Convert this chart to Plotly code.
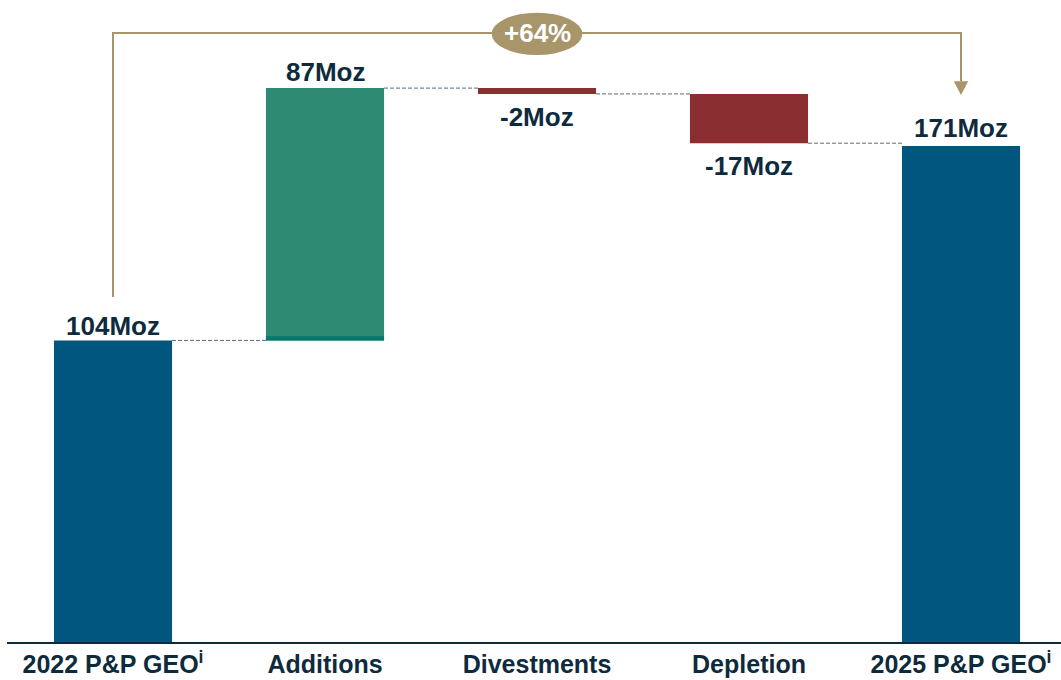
import plotly.graph_objects as go

# Reserves bridge, Moz gold-equivalent ounces
categories = ["2022 P&P GEO<sup>i</sup>", "Additions", "Divestments", "Depletion", "2025 P&P GEO<sup>i</sup>"]
start_total = 104
changes = [87, -2, -17]
end_total = 171
value_labels = ["104Moz", "87Moz", "-2Moz", "-17Moz", "171Moz"]
additions_base_strip = 1.4  # darker band at the foot of the additions bar

BLUE = "#00567e"
TEAL = "#2e8a72"
TEAL_DARK = "#00786e"
RED = "#8b2e31"
GOLD = "#a8966a"
NAVY = "#0e2b3e"
DASH = "#566b7b"
FONT = "Liberation Sans, Arial, sans-serif"

BAR_W = 0.557
x_pos = list(range(len(categories)))

# running levels between steps
levels = [start_total]
for c in changes:
    levels.append(levels[-1] + c)

fig = go.Figure()

# totals
fig.add_trace(go.Bar(x=[x_pos[0], x_pos[-1]], y=[start_total, end_total], width=BAR_W,
                     marker=dict(color=BLUE, line=dict(width=0)), hoverinfo="skip"))

# step bars
step_colors = [TEAL if c > 0 else RED for c in changes]
fig.add_trace(go.Bar(x=x_pos[1:4], y=changes, base=levels[:3], width=BAR_W,
                     marker=dict(color=step_colors, line=dict(width=0)), hoverinfo="skip"))
fig.add_trace(go.Bar(x=[x_pos[1]], y=[additions_base_strip], base=[start_total], width=BAR_W,
                     marker=dict(color=TEAL_DARK, line=dict(width=0)), hoverinfo="skip"))

# dashed connectors between neighbouring bars
for i, lvl in enumerate(levels):
    fig.add_shape(type="line", x0=x_pos[i] + BAR_W / 2, x1=x_pos[i + 1] - BAR_W / 2,
                  y0=lvl, y1=lvl, line=dict(color=DASH, width=1, dash="4px,2px"))

# value labels
label_specs = [
    (x_pos[0], start_total, True, -3),
    (x_pos[1], levels[1], True, -1),
    (x_pos[2], levels[2], False, -6),
    (x_pos[3], levels[3], False, -6),
    (x_pos[4], end_total, True, 1),
]
for (xv, yv, above, shift), txt in zip(label_specs, value_labels):
    fig.add_annotation(x=xv, y=yv, text=f"<b>{txt}</b>", showarrow=False,
                       yanchor="bottom" if above else "top", yshift=shift,
                       font=dict(family=FONT, size=26, color=NAVY))

# growth bracket from the 2022 total to the 2025 total
bracket_top = max(levels) + 19
bracket_left_bottom = start_total + 15
arrow_tip = end_total + 17.6
arrow_len = 4.8
arrow_half = 0.034
fig.add_shape(type="path",
              path=f"M {x_pos[0]},{bracket_left_bottom} L {x_pos[0]},{bracket_top} "
                   f"L {x_pos[-1]},{bracket_top} L {x_pos[-1]},{arrow_tip + arrow_len}",
              line=dict(color=GOLD, width=2))
fig.add_shape(type="path",
              path=f"M {x_pos[-1] - arrow_half},{arrow_tip + arrow_len} "
                   f"L {x_pos[-1] + arrow_half},{arrow_tip + arrow_len} L {x_pos[-1]},{arrow_tip} Z",
              fillcolor=GOLD, line=dict(color=GOLD, width=0))

growth = round((end_total - start_total) / start_total * 100)
mid_x = (x_pos[0] + x_pos[-1]) / 2
fig.add_shape(type="circle", x0=mid_x - 0.214, x1=mid_x + 0.214,
              y0=bracket_top - 7.6, y1=bracket_top + 7.0,
              fillcolor=GOLD, line=dict(color=GOLD, width=0))
fig.add_annotation(x=mid_x, y=bracket_top, text=f"<b>+{growth}%</b>", showarrow=False,
                   font=dict(family=FONT, size=26, color="white"))

fig.update_layout(
    width=1061, height=680,
    margin=dict(l=7, r=0, t=0, b=38),
    paper_bgcolor="white", plot_bgcolor="white",
    barmode="overlay", showlegend=False,
    xaxis=dict(range=[-0.5, -0.5 + 1054 / 212], tickvals=x_pos,
               ticktext=[f"<b>{c}</b>" for c in categories],
               tickfont=dict(family=FONT, size=25, color=NAVY),
               ticklabelstandoff=-1, automargin=False,
               showline=True, linecolor=NAVY, linewidth=2, showgrid=False,
               zeroline=False, ticks=""),
    yaxis=dict(range=[0, 642 / 2.9], visible=False, showgrid=False, zeroline=False,
               automargin=False),
)

fig.write_html("out.html")
